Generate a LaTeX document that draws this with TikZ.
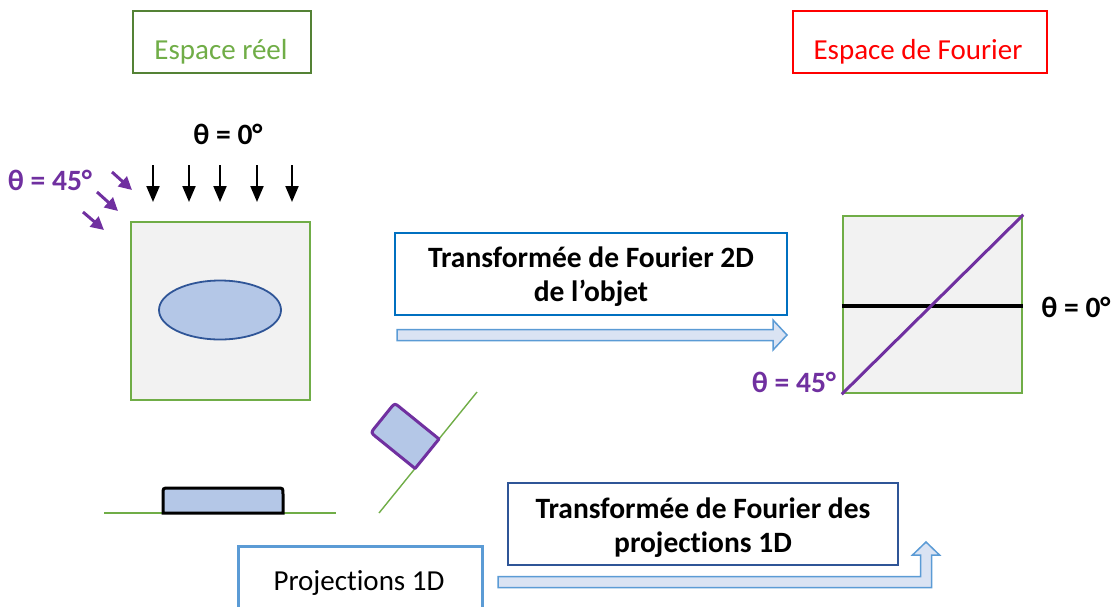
\documentclass[tikz,border=0pt]{standalone}
\usepackage{fontspec}
\setmainfont{Carlito}[Ligatures=CommonOff]
\usetikzlibrary{arrows.meta,shapes.geometric}
\definecolor{grn}{HTML}{70AD47}
\definecolor{dgrn}{HTML}{548235}
\definecolor{purp}{HTML}{7030A0}
\definecolor{lblue}{HTML}{B4C7E7}
\definecolor{dblue}{HTML}{2F5597}
\definecolor{mblue}{HTML}{0070C0}
\definecolor{sblue}{HTML}{5B9BD5}
\definecolor{pblue}{HTML}{DAE3F3}
\definecolor{lgray}{HTML}{F2F2F2}
\begin{document}
\begin{tikzpicture}[x=1pt,y=-1pt,
  every node/.style={inner sep=0pt, font=\fontsize{29}{34}\selectfont},
  framebox/.style={draw, line width=2pt, minimum width=#1},
  txt/.style={align=center},
  bold/.style={font=\fontsize{29.5}{34}\selectfont\bfseries},
  scene/.style={draw=grn, fill=lgray, line width=2.5pt},
  hollow/.style={draw=sblue, fill=pblue, line width=1.5pt, line join=miter},
  down/.style={-{Triangle[width=13pt,length=16pt]}, line width=2pt},
  slant/.style={-{Triangle[width=13pt,length=13pt]}, line width=3pt, draw=purp},
  ground/.style={draw=grn, line width=1.4pt}]
\clip (0,0) rectangle (1114,606);
\useasboundingbox (0,0) rectangle (1114,606);

% title boxes
\node[framebox=178, draw=dgrn, minimum height=62] (reelbox) at (222,42) {};
\node[text=grn] (reeltxt) at (221,52) {Espace réel};
\node[framebox=254, draw=red, minimum height=62] (fourbox) at (920,42) {};
\node[text=red] (fourtxt) at (918,52) {Espace de Fourier};

% real space object
\node[scene, minimum width=179, minimum height=178] (rbox) at (220.5,311) {};
\node[ellipse, draw=dblue, fill=lblue, line width=1.8pt, minimum width=122, minimum height=59] (obj) at (220,310) {};

% theta = 0 arrows
\node[bold] (t0) at (228,134) {θ = 0°};
\foreach \x in {153,189,220,257,292} \draw[down] (\x,165) -- (\x,202);

% theta = 45 arrows
\node[bold, text=purp] (t45) at (50,180) {θ = 45°};
\draw[slant] (112,172) -- (132,190);
\draw[slant] (97,192) -- (118,211);
\draw[slant] (83,212) -- (104,230);

% 2D FT box and arrow
\node[framebox=392, draw=mblue, minimum height=82] (ft2dbox) at (591,274) {};
\node[bold, txt] (ft2dtxt) at (591,277) {Transformée de Fourier 2D\\de l’objet};
\draw[hollow] (397,329.5) -- (773,329.5) -- (773,320) -- (787,335) -- (773,350) -- (773,340.5) -- (397,340.5) -- cycle;

% Fourier space
\node[scene, minimum width=179, minimum height=177] (fbox) at (932.5,304.5) {};
\draw[line width=3.5pt] ([yshift=-1.5pt]fbox.west) -- ([yshift=-1.5pt]fbox.east);
\draw[draw=purp, line width=3pt] (fbox.south west) -- (fbox.north east);
\node[bold] (f0) at (1076,307) {θ = 0°};
\node[bold, text=purp] (f45) at (794,382) {θ = 45°};

% flat projection
\draw[ground] (104,513) -- (336,513);
\draw[fill=lblue, line width=3pt] (163,513) -- (163,494) .. controls (163,488) .. (169,488) -- (277,488) .. controls (283,488) .. (283,494) -- (283,513) -- cycle;

% slanted projection
\draw[ground] (379,513) -- (477,392);
\draw[fill=lblue, draw=purp, line width=3pt, line join=round] (439,439) -- (415.1,468.5) -- (376.2,437.0) .. controls (370.8,432.6) .. (375.2,427.2) -- (390.3,408.5) .. controls (394.7,403.1) .. (400.1,407.5) -- cycle;

% bottom boxes
\node[framebox=244, draw=sblue, line width=3pt, minimum height=80] (projbox) at (360,586) {};
\node (projtxt) at (359,583) {Projections 1D};
\node[framebox=390, draw=dblue, minimum height=82] (ft1dbox) at (703,524) {};
\node[bold, txt] (ft1dtxt) at (703,528) {Transformée de Fourier des\\projections 1D};
\draw[hollow] (498,576.5) -- (920.5,576.5) -- (920.5,555) -- (912.5,555) -- (926,542) -- (939.5,555) -- (931.5,555) -- (931.5,587.5) -- (498,587.5) -- cycle;
\end{tikzpicture}
\end{document}
